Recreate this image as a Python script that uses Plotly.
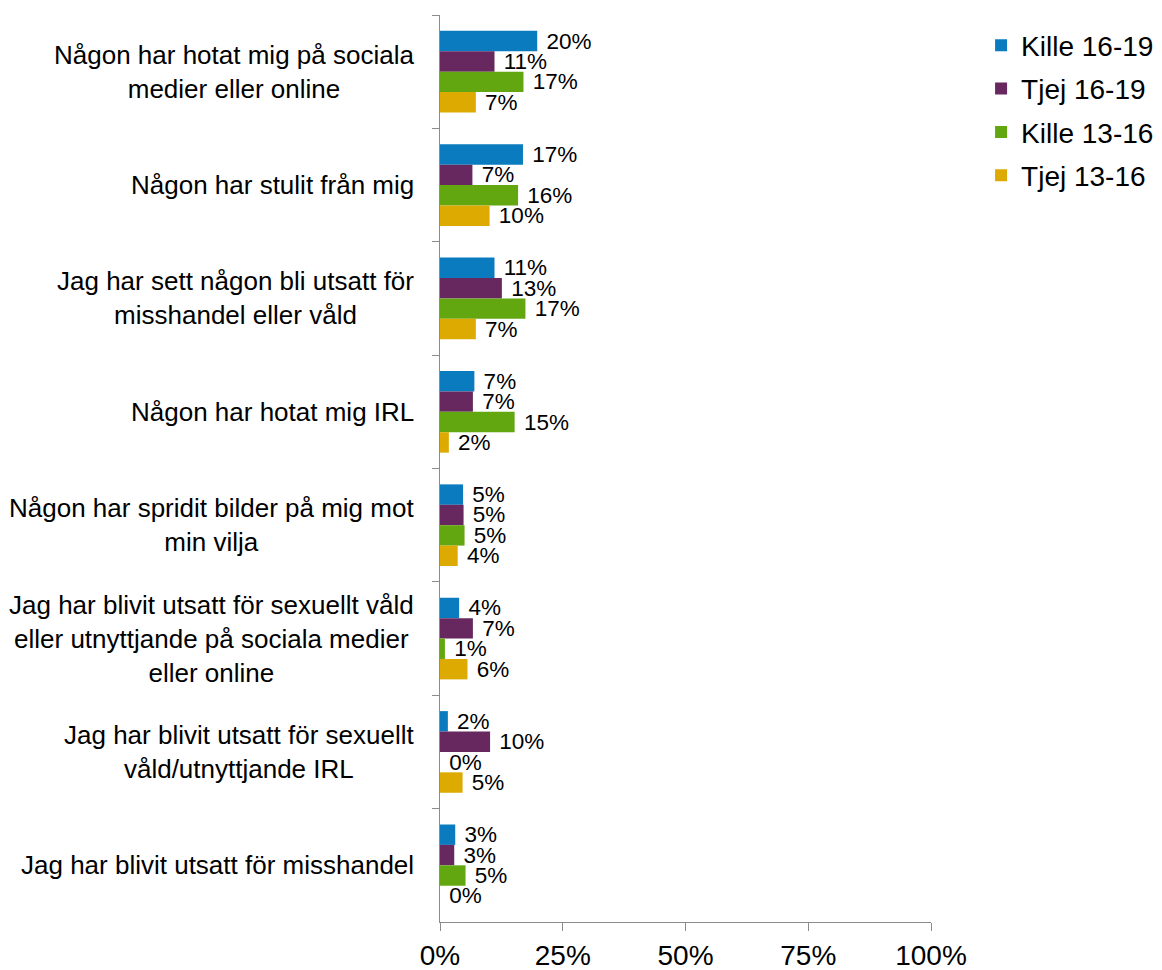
import plotly.graph_objects as go

categories = [
    "Någon har hotat mig på sociala<br>medier eller online",
    "Någon har stulit från mig",
    "Jag har sett någon bli utsatt för<br>misshandel eller våld",
    "Någon har hotat mig IRL",
    "Någon har spridit bilder på mig mot<br>min vilja",
    "Jag har blivit utsatt för sexuellt våld<br>eller utnyttjande på sociala medier<br>eller online",
    "Jag har blivit utsatt för sexuellt<br>våld/utnyttjande IRL",
    "Jag har blivit utsatt för misshandel",
]

series_names = ["Kille 16-19", "Tjej 16-19", "Kille 13-16", "Tjej 13-16"]
kille_16_19 = [0.198, 0.169, 0.111, 0.070, 0.047, 0.039, 0.016, 0.031]
tjej_16_19 = [0.111, 0.066, 0.126, 0.067, 0.048, 0.067, 0.102, 0.029]
kille_13_16 = [0.170, 0.159, 0.174, 0.152, 0.050, 0.010, 0.0, 0.052]
tjej_13_16 = [0.073, 0.101, 0.073, 0.018, 0.036, 0.056, 0.046, 0.0]

x_ticks = [0, 0.25, 0.5, 0.75, 1.0]
x_tick_labels = ["0%", "25%", "50%", "75%", "100%"]

colors = ["#0A7BBE", "#66285F", "#62A610", "#DCAA00"]
FONT = "Liberation Sans, Arial, sans-serif"

fig = go.Figure()
for name, vals, col in zip(series_names, [kille_16_19, tjej_16_19, kille_13_16, tjej_13_16], colors):
    fig.add_trace(go.Bar(
        y=categories, x=vals, name=name, orientation="h",
        marker=dict(color=col, line=dict(width=0)),
        texttemplate="\u00a0%{x:.0%}", textposition="outside",
        textfont=dict(size=22.5, color="black", family=FONT),
        constraintext="none", cliponaxis=False,
        legendgroup=name,
    ))

for c in categories:
    fig.add_annotation(
        x=0, xref="paper", y=c, yref="y", text=c, showarrow=False,
        xanchor="right", yanchor="middle", align="center", xshift=-24,
        font=dict(size=26, color="black", family=FONT),
    )

# page body has an 8px margin, so the figure is sized/offset accordingly
fig.update_layout(
    width=1154, height=962,
    margin=dict(l=432, r=231, t=7, b=48, autoexpand=False),
    plot_bgcolor="white", paper_bgcolor="white",
    barmode="group", bargap=0.28, bargroupgap=0,
    font=dict(family=FONT, color="black", size=26),
    showlegend=True,
    legend=dict(
        x=1.102, y=0.994, xanchor="left", yanchor="top",
        font=dict(size=28, color="black", family=FONT),
        traceorder="grouped", tracegroupgap=4,
        bgcolor="rgba(0,0,0,0)",
    ),
    xaxis=dict(
        range=[0, 1.0], tickvals=x_ticks, ticktext=x_tick_labels,
        showgrid=False, zeroline=False, showline=True, linecolor="#8c8c8c", linewidth=1.3,
        ticks="outside", ticklen=8, tickcolor="#8c8c8c", tickwidth=1.3,
        tickfont=dict(size=28, color="black", family=FONT),
    ),
    yaxis=dict(
        autorange="reversed", categoryorder="array", categoryarray=categories,
        showticklabels=False, showgrid=False, zeroline=False,
        showline=True, linecolor="#8c8c8c", linewidth=1.3,
        ticks="outside", ticklen=7, tickcolor="#8c8c8c", tickwidth=1.3, tickson="boundaries",
    ),
)

fig.write_html("out.html")
